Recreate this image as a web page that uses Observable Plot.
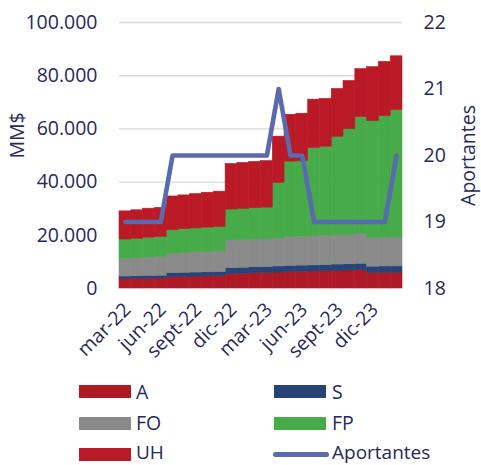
<!DOCTYPE html>
<html><head><meta charset="utf-8">
<script src="https://cdn.jsdelivr.net/npm/d3@7"></script>
<script src="https://cdn.jsdelivr.net/npm/@observablehq/plot@0.6"></script>
<style>
body{margin:0;background:#fff;font-family:"Open Sans",sans-serif;color:#28285a}
#wrap{position:relative;width:481px;height:465px;overflow:hidden}
#chart{position:absolute;left:0;top:0}
.sw{position:absolute;height:13px;width:52px}
.lt{position:absolute;font-size:19.5px;line-height:18px;color:#28285a;white-space:nowrap}
.ln{position:absolute;height:5px;width:56px;border-radius:3px;background:#5a6aae}
</style></head><body>
<div id="wrap"><div id="chart"></div><div id="legend"></div></div>
<script>
const months = ["mar-22","abr-22","may-22","jun-22","jul-22","ago-22","sept-22","oct-22","nov-22","dic-22","ene-23","feb-23","mar-23","abr-23","may-23","jun-23","jul-23","ago-23","sept-23","oct-23","nov-23","dic-23","ene-24","feb-24"];
const tickLabels = ["mar-22","jun-22","sept-22","dic-22","mar-23","jun-23","sept-23","dic-23"];
const seriesNames = ["A","S","FO","FP","UH"];
const seriesColors = ["#ad1a25","#264478","#8a8a8a","#46ab48","#b91a25"];
const A  = [3500,3600,3700,3800,4300,4400,4500,4600,4700,5500,5600,5700,5800,6000,6200,6300,6400,6500,6700,6800,6900,5800,5900,5900];
const S  = [1000,1000,1000,1000,1500,1500,1500,1500,1500,2200,2200,2300,2300,2300,2300,2300,2300,2300,2300,2300,2400,2400,2400,2400];
const FO = [6700,6800,6900,7000,7300,7400,7600,7700,7800,10400,10400,10400,10400,10500,10800,10900,11000,11100,11000,11100,11300,10800,10800,10900];
const FP = [7200,7300,7500,7600,8800,9000,9000,9100,9100,11600,11700,11800,11900,20900,28400,28300,33100,33400,37000,39700,43800,43900,45700,47900];
const UH = [10600,10700,10900,10900,12700,12700,12900,13100,13300,17100,17300,17400,17500,17400,17600,17900,18200,18000,18000,18100,18100,20300,20400,20200];
const aportantes = [19,19,19,19,20,20,20,20,20,20,20,20,20,21,20,20,19,19,19,19,19,19,19,20];
const leftTicks = [0,20000,40000,60000,80000,100000];
const rightTicks = [18,19,20,21,22];

const seriesValues = {A, S, FO, FP, UH};
const rows = [];
for (const name of seriesNames) months.forEach((m, i) => rows.push({month: m, series: name, value: seriesValues[name][i]}));
const rMin = rightTicks[0], rMax = rightTicks[rightTicks.length - 1];
const toLeft = v => (v - rMin) / (rMax - rMin) * 100000;
const lineRows = months.map((m, i) => ({month: m, yy: toLeft(aportantes[i])}));

const loc = d3.formatLocale({decimal: ",", thousands: ".", grouping: [3], currency: ["$", ""]});
const fmt = loc.format(",");
const txt = "#28285a";

const plot = Plot.plot({
  width: 481, height: 375,
  marginLeft: 119, marginRight: 79, marginTop: 22, marginBottom: 87,
  style: {fontFamily: "Open Sans", fontSize: "19.5px", color: txt, background: "transparent", overflow: "visible"},
  x: {type: "band", domain: months, padding: 0, round: false},
  y: {domain: [0, 100000]},
  color: {domain: seriesNames, range: seriesColors},
  marks: [
    Plot.ruleY(leftTicks.slice(1), {stroke: "#d9d9d9", strokeWidth: 1.4}),
    Plot.barY(rows, Plot.stackY({x: "month", y: "value", fill: "series", stroke: "series", strokeWidth: 0.6, order: seriesNames})),
    Plot.line(lineRows, {x: "month", y: "yy", stroke: "#5a6aae", strokeWidth: 4.6, strokeLinecap: "round", strokeLinejoin: "round"}),
    Plot.axisY({ticks: leftTicks, tickFormat: fmt, tickSize: 0, tickPadding: 22, label: null, fill: txt}),
    Plot.axisY({anchor: "right", ticks: rightTicks.map(toLeft), tickFormat: d => String(Math.round(d / 100000 * (rMax - rMin) + rMin)), tickSize: 0, tickPadding: 21, label: null, fill: txt}),
    Plot.axisX({ticks: tickLabels, tickRotate: -45, tickSize: 0, tickPadding: 18, dx: 2, label: null, fill: txt}),
    Plot.text(["MM$"], {frameAnchor: "left", textAnchor: "middle", rotate: -90, dx: -102, dy: -20, fill: txt, fontSize: 19.5}),
    Plot.text(["Aportantes"], {frameAnchor: "right", textAnchor: "middle", rotate: -90, dx: 66.5, dy: 0, fill: txt, fontSize: 19.5})
  ]
});
document.getElementById("chart").appendChild(plot);

// legend
const leg = document.getElementById("legend");
const legendItems = [
  {name: "A", col: 0, row: 0}, {name: "S", col: 1, row: 0},
  {name: "FO", col: 0, row: 1}, {name: "FP", col: 1, row: 1},
  {name: "UH", col: 0, row: 2}, {name: "Aportantes", col: 1, row: 2, line: true}
];
const rowY = [391.5, 423, 454];
const swX = [79, 273.5];
const txX = [136, 332];
for (const it of legendItems) {
  const cy = rowY[it.row];
  if (it.line) {
    const l = document.createElement("div");
    l.className = "ln";
    l.style.left = (swX[it.col] - 1) + "px";
    l.style.top = (cy - 2.5) + "px";
    leg.appendChild(l);
  } else {
    const s = document.createElement("div");
    s.className = "sw";
    s.style.left = swX[it.col] + "px";
    s.style.top = (cy - 6.5) + "px";
    s.style.background = seriesColors[seriesNames.indexOf(it.name)];
    leg.appendChild(s);
  }
  const t = document.createElement("div");
  t.className = "lt";
  t.textContent = it.name;
  t.style.left = txX[it.col] + "px";
  t.style.top = (cy - 9 - (it.row === 2 ? 2 : 0)) + "px";
  if (it.row === 2) t.style.fontSize = "19px";
  leg.appendChild(t);
}
</script>
</body></html>
